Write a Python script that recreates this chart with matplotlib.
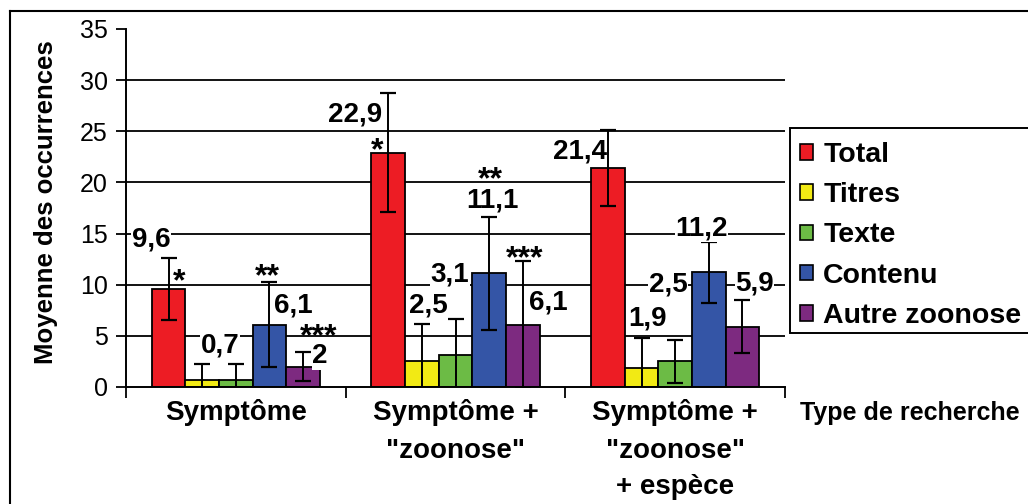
import matplotlib
matplotlib.use("Agg")
import matplotlib.pyplot as plt
from matplotlib.patches import Patch, Rectangle
from matplotlib.lines import Line2D
import numpy as np

plt.rcParams['font.family'] = ['Liberation Sans', 'DejaVu Sans']

# Data
categories = ['Symptôme', 'Symptôme +\n"zoonose"', 'Symptôme +\n"zoonose"\n+ espèce']
series = ['Total', 'Titres', 'Texte', 'Contenu', 'Autre zoonose']
colors = ['#ED1C24', '#F2EA14', '#6CBB45', '#3455A6', '#7D2A80']

total = [9.6, 22.9, 21.4]
titres = [0.7, 2.5, 1.9]
texte = [0.7, 3.1, 2.5]
contenu = [6.1, 11.1, 11.2]
autre = [2, 6.1, 5.9]

err_total = [3.05, 5.8, 3.7]
err_titres = [1.55, 3.7, 2.9]
err_texte = [1.55, 3.5, 2.1]
err_contenu = [4.15, 5.5, 3.0]
err_autre = [1.45, 6.2, 2.6]

# Value labels shown per bar (None = no label), and significance marks
value_labels = [
    ['9,6', '0,7', None, '6,1', '2'],
    ['22,9', '2,5', '3,1', '11,1', '6,1'],
    ['21,4', '1,9', '2,5', '11,2', '5,9'],
]
stars = [
    ['*', None, None, '**', '***'],
    ['*', None, None, '**', '***'],
    [None, None, None, None, None],
]

# Label anchor positions (x in category units, y in data units)
label_pos = [
    [(-0.386, 14.4), (-0.072, 4.1), None, (0.260, 8.0), (0.383, 3.0)],
    [(0.542, 26.6), (0.875, 8.0), (0.975, 10.95), (1.166, 18.2), (1.421, 8.3)],
    [(1.566, 23.0), (1.876, 6.65), (1.967, 10.0), (2.122, 15.45), (2.362, 10.1)],
]
star_pos = [
    [(-0.259, 10.2), None, None, (0.146, 10.7), (0.378, 4.9)],
    [(0.642, 23.0), None, None, (1.157, 20.2), (1.316, 12.45)],
    [None, None, None, None, None],
]

values = [total, titres, texte, contenu, autre]
errors = [err_total, err_titres, err_texte, err_contenu, err_autre]

W, H = 1028, 504
fig = plt.figure(figsize=(W / 100, H / 100), dpi=100)
ax = fig.add_axes([126 / W, 1 - 387 / H, (785 - 126) / W, (387 - 29) / H])

x = np.arange(len(categories))
n = len(series)
group_w = 0.765
bw = group_w / n

for i, (name, vals, errs, col) in enumerate(zip(series, values, errors, colors)):
    xs = x - group_w / 2 + bw * (i + 0.5)
    ax.bar(xs, vals, width=bw, color=col, edgecolor='black', linewidth=1.3,
           label=name, zorder=2)
    ax.errorbar(xs, vals, yerr=errs, fmt='none', ecolor='black',
                elinewidth=1.4, capsize=5.5, capthick=1.6, zorder=3)

ax.set_xlim(-0.5, len(categories) - 0.5)
ax.set_ylim(0, 35)
ax.set_yticks(np.arange(0, 36, 5))
ax.tick_params(axis='y', labelsize=18, length=7, width=1.3, pad=6, direction='out')

# Horizontal grid (5 to 30)
for yv in range(5, 35, 5):
    ax.axhline(yv, color='black', linewidth=1.3, zorder=1)

ax.set_xticks(x)
ax.set_xticklabels(categories, fontsize=20, fontweight='bold', linespacing=1.55)
ax.tick_params(axis='x', length=0, pad=9)
ax.set_xticks(np.arange(-0.5, len(categories), 1.0), minor=True)
ax.tick_params(axis='x', which='minor', length=8, width=1.3, direction='out')

for s in ['top', 'right']:
    ax.spines[s].set_visible(False)
for s in ['left', 'bottom']:
    ax.spines[s].set_linewidth(1.4)

# Value labels and significance marks
for g in range(len(categories)):
    for i in range(n):
        txt = value_labels[g][i]
        if txt is not None:
            px, py = label_pos[g][i]
            ax.text(px, py, txt, fontsize=20, fontweight='bold', ha='center',
                    va='center', zorder=4,
                    bbox=dict(facecolor='white', edgecolor='none', pad=0.3))
        st = stars[g][i]
        if st is not None:
            px, py = star_pos[g][i]
            ax.text(px, py, st, fontsize=23, fontweight='bold', ha='center',
                    va='center', zorder=5)

fig.text(46 / W, 1 - 202 / H, 'Moyenne des occurrences', rotation=90,
         fontsize=18.5, fontweight='bold', ha='center', va='center')
fig.text(800 / W, 1 - 413 / H, 'Type de recherche', fontsize=18,
         fontweight='bold', ha='left', va='center')

# Legend box and entries
fig.patches.append(Rectangle((790 / W, 1 - 333 / H), 0.3, (333 - 128) / H,
                             transform=fig.transFigure, facecolor='white',
                             edgecolor='black', linewidth=1.4, zorder=0))
handles = [Patch(facecolor=c, edgecolor='black', linewidth=1.2) for c in colors]
leg = fig.legend(handles, series, loc='upper left',
                 bbox_to_anchor=(800 / W, 1 - 142 / H),
                 bbox_transform=fig.transFigure, frameon=False,
                 prop=dict(size=20.5, weight='bold'), handlelength=0.47,
                 handleheight=0.47, handletextpad=0.35, labelspacing=0.5,
                 borderpad=0, borderaxespad=0)

# Outer frame
fig.add_artist(Line2D([10 / W, 10 / W], [0, 1 - 11 / H], transform=fig.transFigure,
                      color='black', linewidth=1.5))
fig.add_artist(Line2D([10 / W, 1.0], [1 - 11 / H, 1 - 11 / H], transform=fig.transFigure,
                      color='black', linewidth=1.5))

fig.savefig('out.png', dpi=100)
